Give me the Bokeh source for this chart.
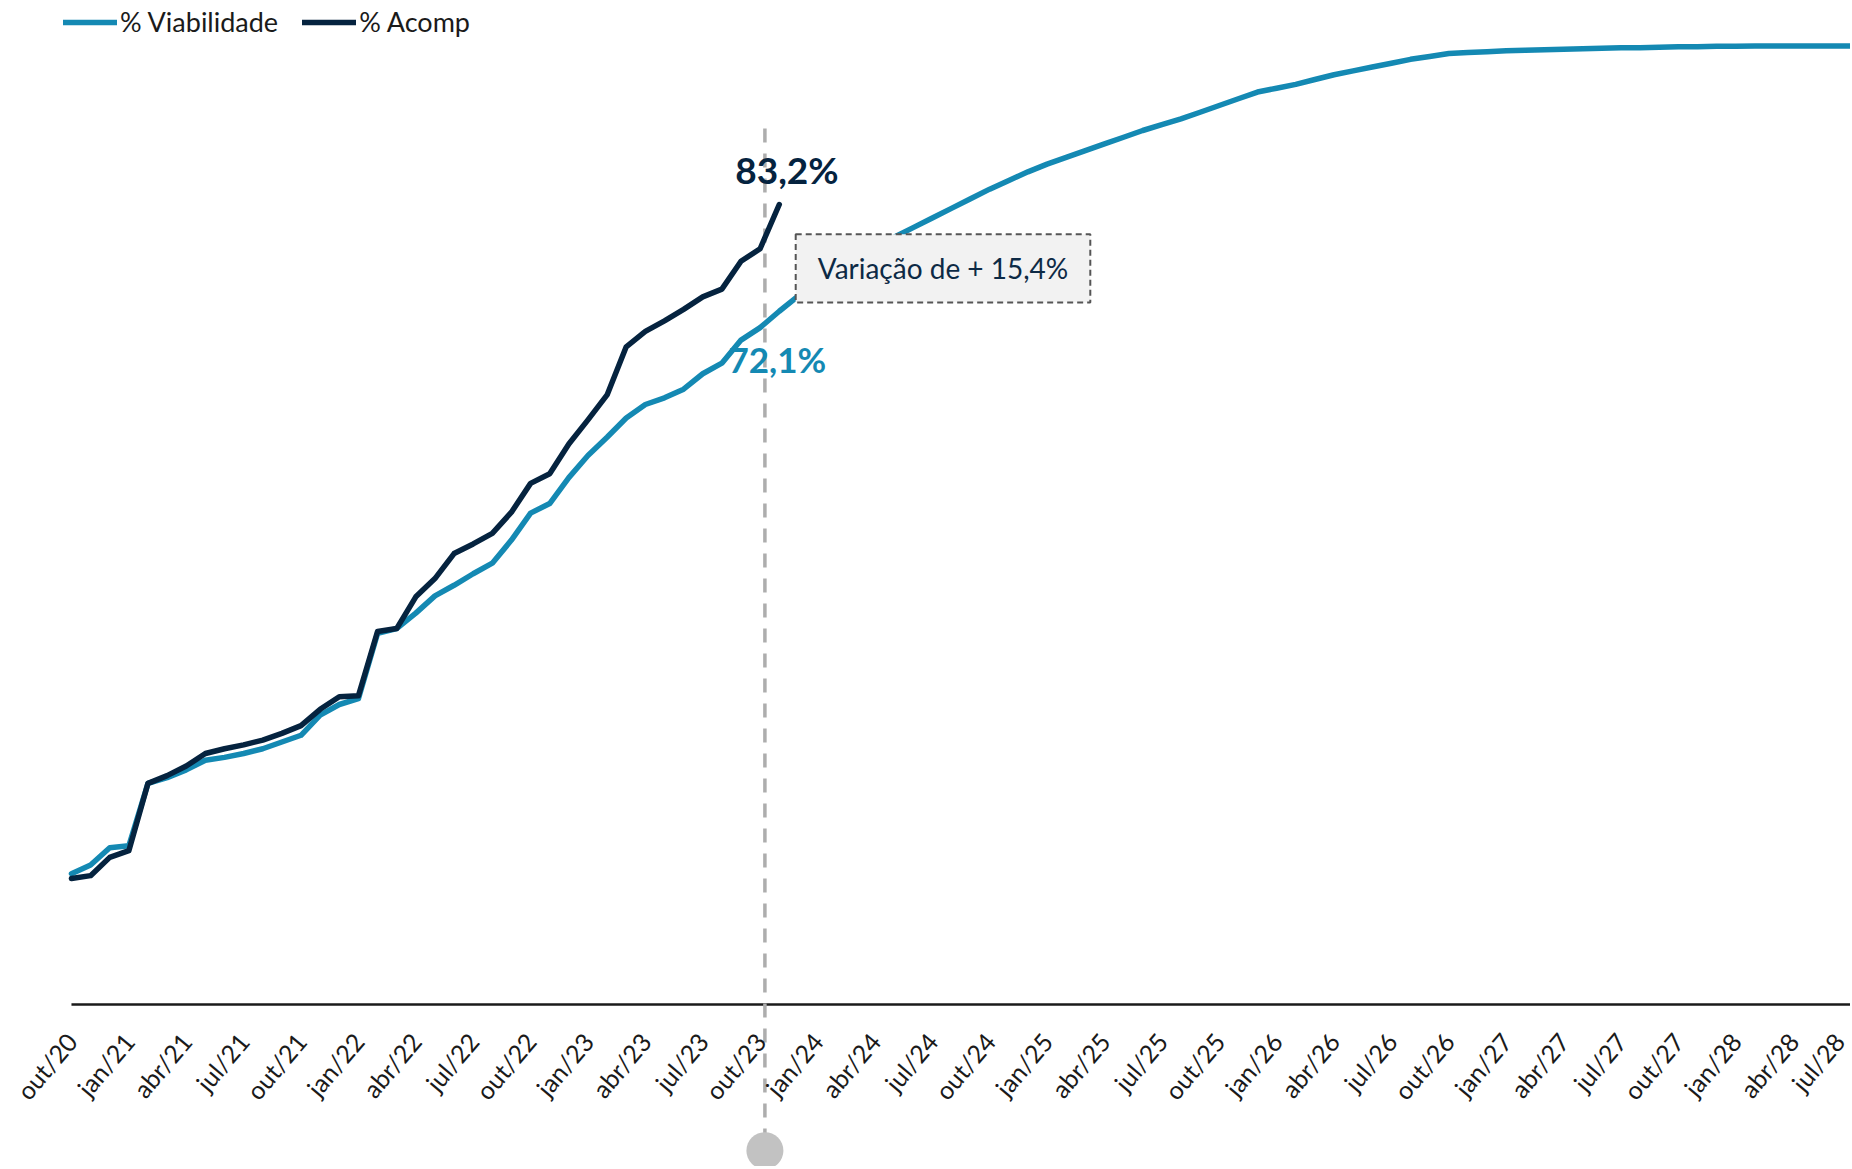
import math
from bokeh.plotting import figure
from bokeh.models import (Range1d, FixedTicker, Legend, LegendItem, Label,
                          BoxAnnotation, ColumnDataSource)
from bokeh.embed import file_html
from bokeh.resources import INLINE

# ---------------- data ----------------
tick_labels = ["out/20", "jan/21", "abr/21", "jul/21", "out/21", "jan/22", "abr/22",
               "jul/22", "out/22", "jan/23", "abr/23", "jul/23", "out/23", "jan/24",
               "abr/24", "jul/24", "out/24", "jan/25", "abr/25", "jul/25", "out/25",
               "jan/26", "abr/26", "jul/26", "out/26", "jan/27", "abr/27", "jul/27",
               "out/27", "jan/28", "abr/28", "jul/28"]

# monthly values, month 0 = out/20
viabilidade = [13.6, 14.5, 16.3, 16.5, 23.0, 23.6, 24.4, 25.4, 25.7, 26.1,
               26.6, 27.3, 28.0, 30.1, 31.2, 31.8, 38.6, 39.1, 40.7, 42.5,
               43.6, 44.8, 45.9, 48.3, 51.1, 52.1, 54.8, 57.1, 59.0, 61.0,
               62.4, 63.1, 64.0, 65.6, 66.7, 69.1, 70.4, 72.1,
               73.7, 75.1, 76.4, 77.6, 78.7, 79.8, 80.8, 81.8, 82.8, 83.8,
               84.8, 85.7, 86.6, 87.4, 88.1, 88.8, 89.5, 90.2, 90.9, 91.5,
               92.1, 92.8, 93.5, 94.2, 94.9, 95.3, 95.7, 96.2, 96.7, 97.1,
               97.5, 97.9, 98.3, 98.6, 98.9, 99.0, 99.1, 99.2, 99.25, 99.3,
               99.35, 99.4, 99.45, 99.5, 99.5, 99.55, 99.6, 99.6, 99.65, 99.65,
               99.7, 99.7, 99.7, 99.7, 99.7, 99.7]

acomp = [13.1, 13.4, 15.3, 16.0, 23.0, 23.8, 24.8, 26.1, 26.6, 27.0,
         27.5, 28.2, 29.0, 30.7, 32.0, 32.1, 38.8, 39.1, 42.4, 44.3,
         46.9, 47.9, 49.0, 51.2, 54.2, 55.2, 58.3, 60.8, 63.4, 68.4,
         70.0, 71.1, 72.3, 73.6, 74.4, 77.3, 78.6, 83.2]

acomp_last = "83,2%"
viab_last = "72,1%"
variacao_text = "Variação de + 15,4%"
marker_month = 36.25

LIGHT = "#1489b3"
DARK = "#05233f"

months_v = list(range(len(viabilidade)))
months_a = list(range(len(acomp)))
n_last = len(viabilidade) - 1

W, H = 1850, 1166
# ---------------- figure ----------------
p = figure(width=W, height=H, output_backend="svg", toolbar_location=None,
           x_range=Range1d(-3.71, n_last), y_range=Range1d(-16.85, 104.42),
           min_border_left=0, min_border_right=0, min_border_top=0, min_border_bottom=0)
p.outline_line_color = None
p.xgrid.visible = False
p.ygrid.visible = False
p.yaxis.visible = False
p.background_fill_color = "white"

ax = p.xaxis[0]
ax.fixed_location = 0
ax.ticker = FixedTicker(ticks=[3 * i for i in range(len(tick_labels))])
ax.major_label_overrides = {3 * i: lab for i, lab in enumerate(tick_labels)}
ax.major_label_orientation = 0.87
ax.major_label_text_font = "Lato"
ax.major_label_text_font_size = "25px"
ax.major_label_text_color = "#1a1a1a"
ax.major_label_standoff = 26
ax.major_tick_line_color = None
ax.minor_tick_line_color = None
ax.axis_line_color = None

# base line of the x axis
p.segment(x0=[0], y0=[0], x1=[n_last], y1=[0], line_color="#1a1a1a", line_width=2.5)

# vertical marker
p.segment(x0=[marker_month], y0=[91.1], x1=[marker_month], y1=[-13.5],
          line_color="#adadad", line_width=3.5, line_dash="14 11")
p.scatter(x=[marker_month], y=[-15.2], size=37, color="#c2c2c2", line_color=None)

src_v = ColumnDataSource(dict(x=months_v, y=viabilidade))
src_a = ColumnDataSource(dict(x=months_a, y=acomp))
r_v = p.line("x", "y", source=src_v, line_color=LIGHT, line_width=5.5,
             line_join="round", line_cap="round")
r_a = p.line("x", "y", source=src_a, line_color=DARK, line_width=5.5,
             line_join="round", line_cap="round")

legend = Legend(items=[LegendItem(label="% Viabilidade", renderers=[r_v]),
                       LegendItem(label="% Acomp", renderers=[r_a])],
                location=(63, H - 38), orientation="horizontal",
                glyph_width=54, glyph_height=22, label_standoff=3, spacing=24,
                margin=0, padding=0, border_line_color=None,
                background_fill_alpha=0,
                label_text_font="Lato", label_text_font_size="27px",
                label_text_color="#1a1a1a")
p.add_layout(legend)

# annotations
box = BoxAnnotation(left=37.86, right=53.26, bottom=73.0, top=80.1,
                    fill_color="#f2f2f2", fill_alpha=1.0,
                    line_color="#555555", line_alpha=1.0, line_width=2, line_dash="6 4")
p.add_layout(box)
p.add_layout(Label(x=45.56, y=76.55, text=variacao_text, text_align="center",
                   text_baseline="middle", text_font="Lato", text_font_size="28px",
                   text_color="#0d2a45"))
p.add_layout(Label(x=37.4, y=86.8, text=acomp_last, text_align="center",
                   text_baseline="middle", text_font="Lato", text_font_style="bold",
                   text_font_size="37px", text_color=DARK))
p.add_layout(Label(x=36.9, y=67.1, text=viab_last, text_align="center",
                   text_baseline="middle", text_font="Lato", text_font_style="bold",
                   text_font_size="35px", text_color=LIGHT))

open("out.html", "w").write(file_html(p, INLINE))
